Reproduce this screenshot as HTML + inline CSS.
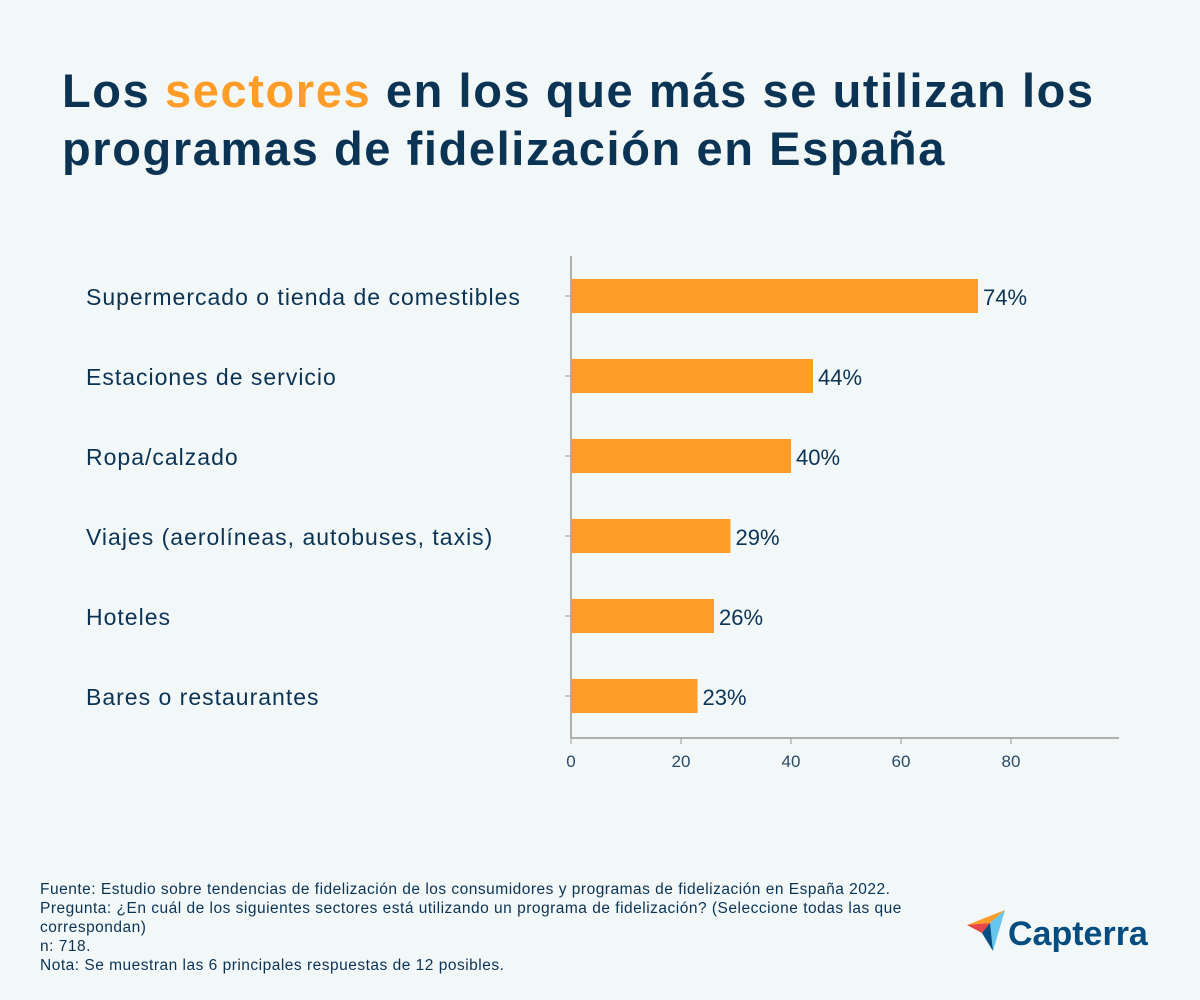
<!DOCTYPE html>
<html><head><meta charset="utf-8"><style>
body{margin:0;width:1200px;height:1000px;background:#f2f7f7;font-family:"Liberation Sans",sans-serif;color:#0b3354;position:relative;overflow:hidden}
h1{position:absolute;left:62px;top:62px;margin:0;font-size:47px;line-height:58px;font-weight:bold;color:#0b3354;letter-spacing:1.6px}
h1 span{color:#ff9d28}
.foot{position:absolute;left:40px;top:880px;font-size:15.5px;line-height:19px;color:#0b3354;width:900px;letter-spacing:0.5px}
</style></head><body>
<h1>Los <span>sectores</span> en los que más se utilizan los<br>programas de fidelización en España</h1>
<svg id="chart" width="1200" height="1000" style="position:absolute;left:0;top:0"></svg>
<div class="foot">Fuente: Estudio sobre tendencias de fidelización de los consumidores y programas de fidelización en España 2022.<br>Pregunta: ¿En cuál de los siguientes sectores está utilizando un programa de fidelización? (Seleccione todas las que correspondan)<br>n: 718.<br>Nota: Se muestran las 6 principales respuestas de 12 posibles.</div>
<svg width="200" height="60" style="position:absolute;left:960px;top:905px">
<polygon points="7,20 45,5 30,18" fill="#ff9d28"/>
<polygon points="7,20 30,18 22,28" fill="#e54747"/>
<polygon points="45,5 30,18 33,46" fill="#68c5ed"/>
<polygon points="30,18 22,28 33,46" fill="#044d80"/>
<text x="48" y="40" font-size="34" font-weight="bold" fill="#044d80" font-family="Liberation Sans, sans-serif">Capterra</text>
</svg>
<script>
const categories=["Supermercado o tienda de comestibles","Estaciones de servicio","Ropa/calzado","Viajes (aerolíneas, autobuses, taxis)","Hoteles","Bares o restaurantes"];
const values=[74,44,40,29,26,23];
const ticks=[0,20,40,60,80];
const svg=document.getElementById('chart');const NS="http://www.w3.org/2000/svg";
const x0=571,ppu=5.5,yTop=256,yBot=738,band=80,first=296;
const X=v=>x0+v*ppu;const Y=i=>first+i*band;
function mk(t,a){const e=document.createElementNS(NS,t);for(const k in a)e.setAttribute(k,a[k]);svg.appendChild(e);return e;}
let ax=mk('line',{x1:x0,y1:yTop,x2:x0,y2:yBot,stroke:'#999','stroke-width':1.5});


let xa=mk('line',{x1:x0,y1:yBot,x2:1119,y2:yBot,stroke:'#999','stroke-width':1.5});


ticks.forEach(t=>{mk('line',{x1:X(t),y1:yBot,x2:X(t),y2:yBot+6,stroke:'#999'});
const tx=mk('text',{x:X(t),y:yBot+29,'text-anchor':'middle','font-size':17,fill:'#2a4a66','font-family':'Liberation Sans, sans-serif'});tx.textContent=t;

});
categories.forEach((c,i)=>{const y=Y(i);
mk('line',{x1:x0-6,y1:y,x2:x0,y2:y,stroke:'#999'});
const l=mk('text',{x:86,y:y+9,'font-size':23,'letter-spacing':1,fill:'#0b3354','font-family':'Liberation Sans, sans-serif'});l.textContent=c;


const b=mk('rect',{x:x0,y:y-17,width:values[i]*ppu,height:34,fill:'#ff9d28'});


const v=mk('text',{x:X(values[i])+5,y:y+9,'font-size':22,fill:'#0b3354','font-family':'Liberation Sans, sans-serif'});v.textContent=values[i]+'%';

});
</script>
</body></html>
